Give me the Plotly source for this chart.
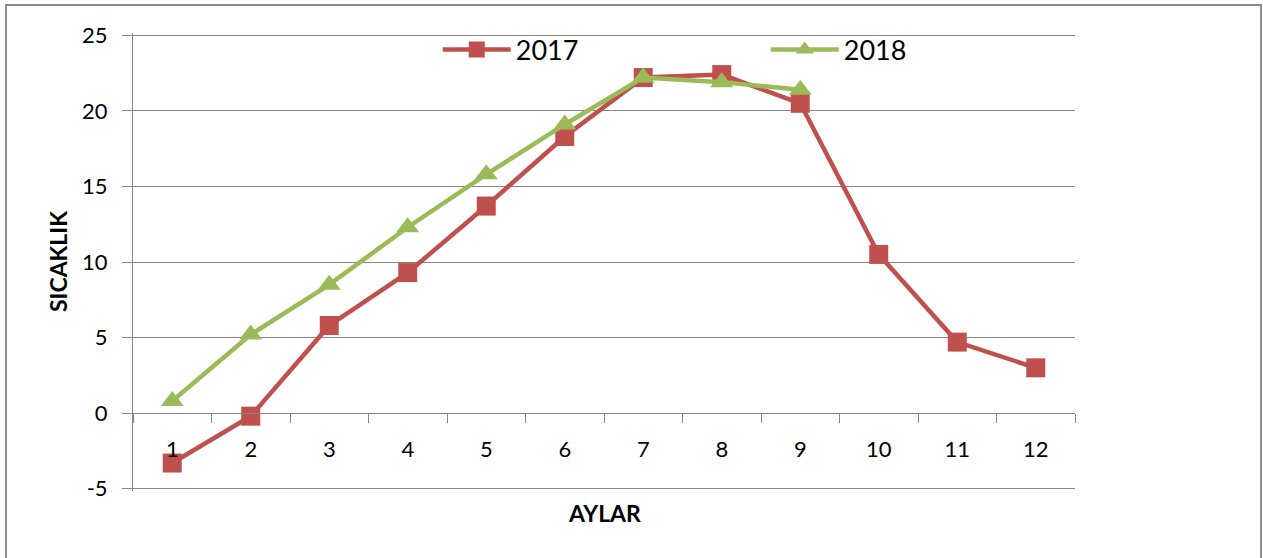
import plotly.graph_objects as go

months = ["1", "2", "3", "4", "5", "6", "7", "8", "9", "10", "11", "12"]
temps_2017 = [-3.3, -0.2, 5.8, 9.3, 13.7, 18.3, 22.2, 22.4, 20.5, 10.5, 4.7, 3.0]
months_2018 = ["1", "2", "3", "4", "5", "6", "7", "8", "9"]
temps_2018 = [0.8, 5.2, 8.5, 12.3, 15.8, 19.1, 22.2, 21.9, 21.4]
y_ticks = [-5, 0, 5, 10, 15, 20, 25]
y_tick_text = ["-5", "0", "5", "10", "15", "20", "25"]

RED = "#C0504D"
GREEN = "#9BBB59"
GRID = "#868686"
FONT = "Lato"

# slight padding so edge gridlines (-5 and 25) are drawn
Y_MIN, Y_MAX = -5.15, 25.15

fig = go.Figure()
fig.add_trace(go.Scatter(
    x=months, y=temps_2017, name="2017", mode="lines+markers",
    line=dict(color=RED, width=4.5),
    marker=dict(symbol="square", size=19, color=RED),
))
fig.add_trace(go.Scatter(
    x=months_2018, y=temps_2018, name="2018", mode="lines+markers",
    line=dict(color=GREEN, width=4.5),
    marker=dict(symbol="triangle-up", size=20, color=GREEN),
))

zero_pos = (0 - Y_MIN) / (Y_MAX - Y_MIN)

fig.update_layout(
    width=1263, height=558,
    margin=dict(l=133, r=188, t=33, b=67),
    paper_bgcolor="white", plot_bgcolor="white",
    font=dict(family=FONT, color="#000000", size=22),
    showlegend=True,
    legend=dict(
        orientation="h", x=0.3235, y=0.963, xanchor="left", yanchor="middle",
        font=dict(size=27, family=FONT), bgcolor="rgba(0,0,0,0)",
        entrywidth=245, entrywidthmode="pixels", itemwidth=68,
    ),
    xaxis=dict(
        type="category", categoryorder="array", categoryarray=months,
        range=[-0.5, 11.5],
        anchor="free", position=zero_pos,
        showline=True, linecolor=GRID, linewidth=1,
        ticks="outside", tickson="boundaries", ticklen=9, tickcolor=GRID,
        showgrid=False, zeroline=False,
        tickfont=dict(size=22, family=FONT),
        ticklabelstandoff=16,
    ),
    yaxis=dict(
        range=[Y_MIN, Y_MAX], tickmode="array", tickvals=y_ticks, ticktext=y_tick_text,
        showline=True, linecolor=GRID, linewidth=1,
        ticks="outside", ticklen=10, tickcolor=GRID,
        showgrid=True, gridcolor=GRID, gridwidth=1,
        zeroline=False,
        tickfont=dict(size=22, family=FONT),
        ticklabelstandoff=10,
    ),
    annotations=[
        dict(text="<b>SICAKLIK</b>", xref="paper", yref="paper",
             x=-0.0796, y=0.5, xanchor="center", yanchor="middle",
             textangle=-90, showarrow=False,
             font=dict(size=23, family=FONT)),
        dict(text="<b>AYLAR</b>", xref="paper", yref="paper",
             x=0.5, y=-0.048, xanchor="center", yanchor="middle",
             showarrow=False,
             font=dict(size=23, family=FONT)),
    ],
    shapes=[
        dict(type="rect", xref="paper", yref="paper",
             x0=-0.1348, x1=1.1975, y0=-0.2, y1=1.061,
             line=dict(color="#8C8C8C", width=2), fillcolor="rgba(0,0,0,0)",
             layer="above"),
        dict(type="rect", xref="paper", yref="paper",
             x0=0.3864, x1=0.5032, y0=0.985, y1=1.008,
             line=dict(width=0), fillcolor="white", layer="between"),
        dict(type="rect", xref="paper", yref="paper",
             x0=0.7389, x1=0.8535, y0=0.985, y1=1.008,
             line=dict(width=0), fillcolor="white", layer="between"),
    ],
)

fig.write_html("out.html", config={"displayModeBar": False},
               post_script="document.body.style.margin='0';")
